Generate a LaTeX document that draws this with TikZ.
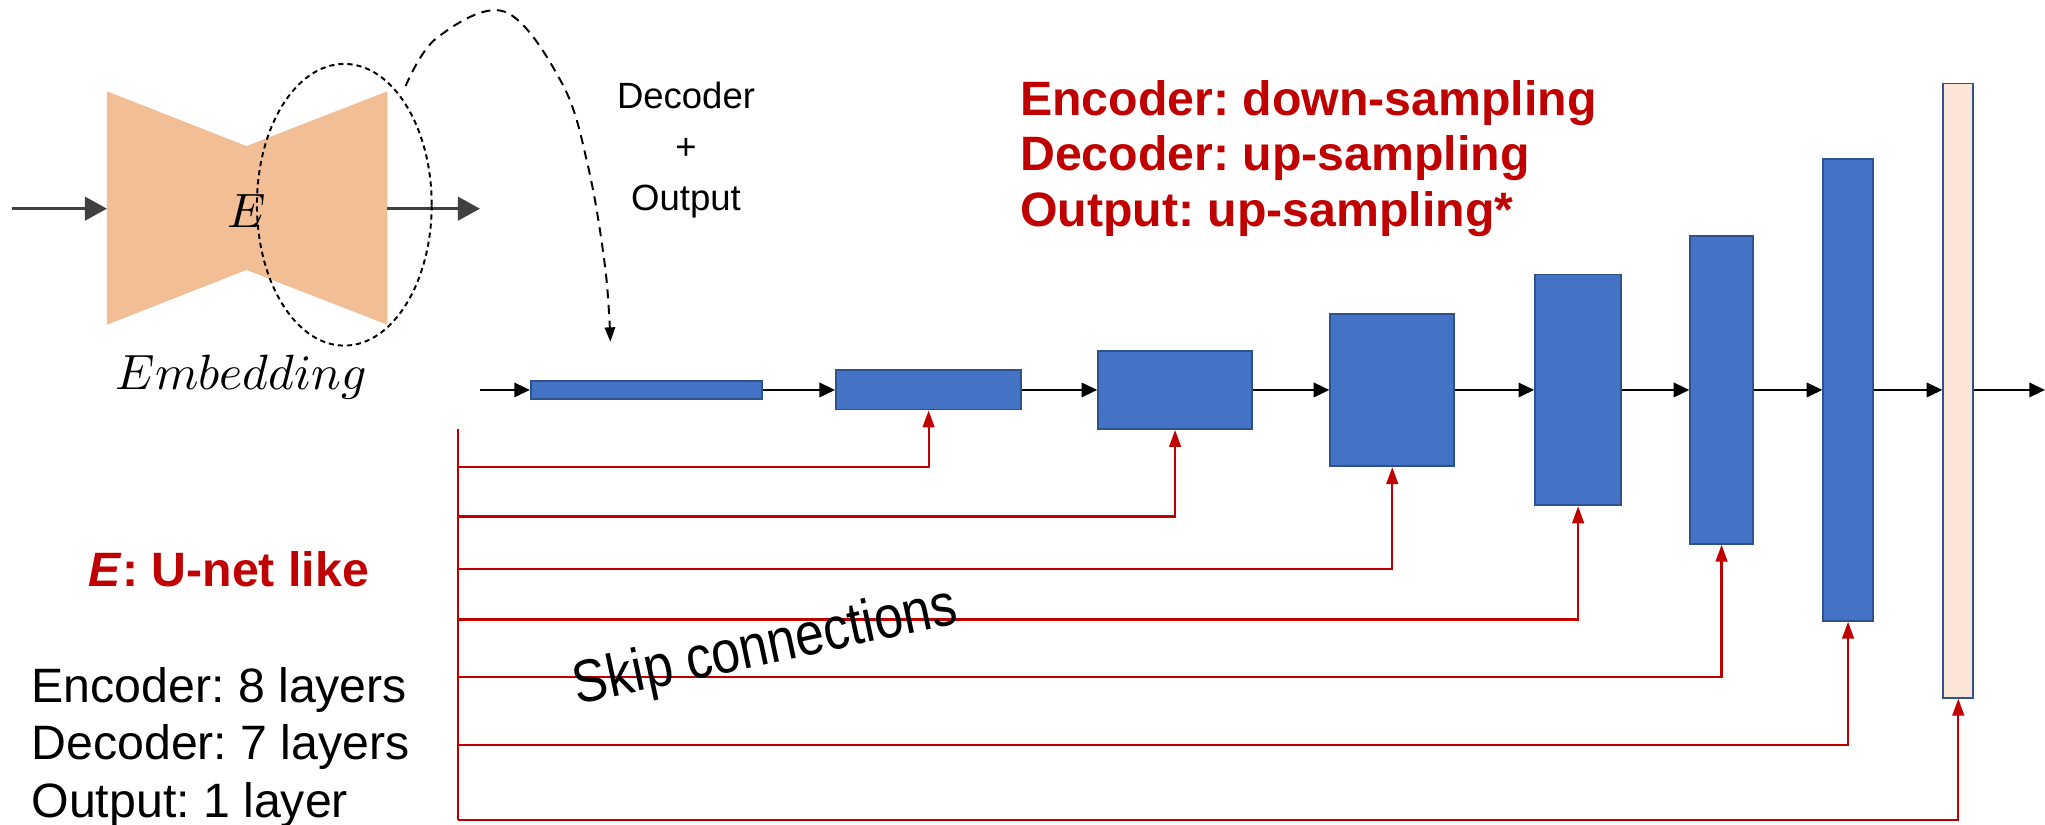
\documentclass[tikz,border=0pt]{standalone}
\usepackage{fontspec}
\newfontfamily\arial{Liberation Sans}
\usetikzlibrary{arrows.meta}
\definecolor{bfill}{HTML}{4472C4}
\definecolor{bline}{HTML}{2F528F}
\definecolor{ofill}{HTML}{FBE5D6}
\definecolor{peach}{HTML}{F2BE96}
\definecolor{dred}{HTML}{C00000}
\definecolor{dgray}{HTML}{404040}
\frenchspacing
\begin{document}
\begin{tikzpicture}[x=1pt,y=-1pt,
  blk/.style={draw=bline, fill=bfill, line width=1.4pt, inner sep=0pt},
  outblk/.style={draw=bline, fill=ofill, line width=1.4pt, inner sep=0pt},
  arr/.style={line width=1.8pt, -{Triangle[length=12pt,width=11pt]}},
  garr/.style={draw=dgray, line width=2.6pt, -{Triangle[length=17pt,width=18pt]}},
  skiparr/.style={draw=dred, line width=1.7pt, -{Triangle[length=13pt,width=9pt]}},
  dasharr/.style={line width=1.5pt, dash pattern=on 7pt off 5pt, -{Triangle[length=11pt,width=8pt]}},
  lbl/.style={inner sep=0pt}
]
\useasboundingbox (0,0) rectangle (1568,632);

% embedding block (bow tie)
\fill[peach] (82,70) -- (189,112) -- (297,70) -- (297,249) -- (189,207) -- (82,249) -- cycle;
\node[lbl, scale=3.7] (E) at (189,162) {$E$};
\node[lbl, scale=3.8, anchor=base] (emb) at (185,299) {$Embedding$};
\coordinate (in) at (9,160);
\coordinate (bl) at (82,160);
\coordinate (br) at (297,160);
\coordinate (eo) at (368,160);
\draw[garr] (in) -- (bl);
\draw[garr] (br) -- (eo);

% dashed ellipse and curved arrow
\draw[line width=1.5pt, dash pattern=on 4pt off 3pt] (264,157) ellipse [x radius=67pt, y radius=108pt];
\draw[dasharr] plot[smooth, tension=0.6] coordinates {(311,66) (335,29) (387,9) (431,64) (451,128) (464,205) (468,262)};

% texts
\node[lbl, align=center, font=\arial\fontsize{28}{39}\selectfont] (dec) at (526,115) {Decoder\\+\\Output};
\node[lbl, anchor=north west, align=left, text=dred, font=\arial\bfseries\fontsize{37}{42.5}\selectfont] (red) at (782,61.5) {Encoder: down-sampling\\Decoder: up-sampling\\Output: up-sampling*};
\node[lbl, anchor=base west, text=dred, font=\arial\bfseries\fontsize{37}{42.5}\selectfont] (unet) at (68,450) {\textit{E}: U-net like};
\node[lbl, anchor=north west, align=left, font=\arial\fontsize{37}{44}\selectfont] (layers) at (24,511.5) {Encoder: 8 layers\\Decoder: 7 layers\\Output: 1 layer};

% main chain of blocks
\node[blk, minimum width=177pt, minimum height=14pt] (b1) at (495.5,299) {};
\node[blk, minimum width=142pt, minimum height=30pt] (b2) at (712,299) {};
\node[blk, minimum width=118pt, minimum height=60pt] (b3) at (901,299) {};
\node[blk, minimum width=95pt, minimum height=117pt] (b4) at (1067.5,299) {};
\node[blk, minimum width=66pt, minimum height=177pt] (b5) at (1210,299) {};
\node[blk, minimum width=48pt, minimum height=236pt] (b6) at (1320,299) {};
\node[blk, minimum width=38pt, minimum height=354pt] (b7) at (1417,299) {};
\node[outblk, minimum width=23pt, minimum height=471pt] (o) at (1501.5,299.5) {};

\coordinate (start) at (368,299);
\coordinate (finish) at (1568,299);
\draw[arr] (start) -- (b1.west);
\draw[arr] (b1.east) -- (b2.west);
\draw[arr] (b2.east) -- (b3.west);
\draw[arr] (b3.east) -- (b4.west);
\draw[arr] (b4.east) -- (b5.west);
\draw[arr] (b5.east) -- (b6.west);
\draw[arr] (b6.east) -- (b7.west);
\draw[arr] (b7.east) -- (b7.east -| o.west);
\draw[arr] (o.east |- b7.east) -- (finish);

% skip connections
\coordinate (stop) at (351,329);
\coordinate (s2) at (351,358);
\coordinate (s3) at (351,396);
\coordinate (s4) at (351,436);
\coordinate (s5) at (351,475);
\coordinate (s6) at (351,519);
\coordinate (s7) at (351,571);
\coordinate (s8) at (351,629);
\draw[dred, line width=1.5pt] (stop) -- (s8);
\draw[skiparr] (s2) -| (b2.south);
\draw[skiparr] (s3) -| (b3.south);
\draw[skiparr] (s4) -| (b4.south);
\draw[skiparr] (s5) -| (b5.south);
\draw[skiparr] (s6) -| (b6.south);
\draw[skiparr] (s7) -| (b7.south);
\draw[skiparr] (s8) -| (o.south);

\node[lbl, anchor=base west, rotate=12, xscale=0.86, font=\arial\fontsize{46}{50}\selectfont] (skip) at (443,540) {Skip connections};
\end{tikzpicture}
\end{document}
